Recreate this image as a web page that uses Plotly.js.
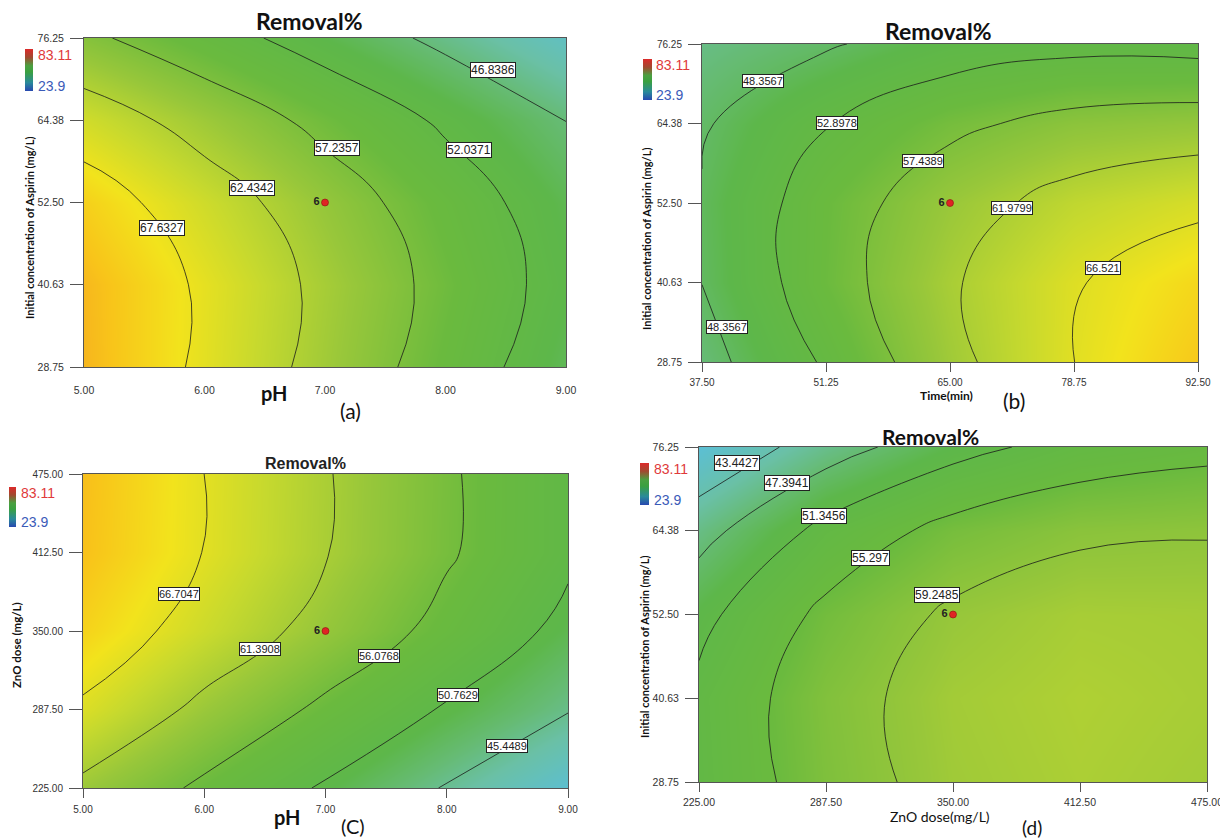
<!DOCTYPE html>
<html>
<head>
<meta charset="utf-8">
<script src="https://cdn.plot.ly/plotly-3.0.1.min.js"></script>
<style>
html,body{margin:0;padding:0;background:#ffffff;}
#chart{width:1220px;height:839px;}
</style>
</head>
<body>
<div id="chart"></div>
<script>
// ---------------- DATA ----------------
// Panel (a): Removal% vs pH (x) and initial aspirin concentration (y)
const phLevels = [5, 6, 7, 8, 9];
const aspirinConc = [28.75, 40.625, 52.5, 64.375, 76.25];
const removalA = [
  [72.6, 66.7, 60.8, 54.9, 49.0],
  [72.4, 66.9, 61.3, 55.8, 50.2],
  [70.1, 64.9, 59.7, 54.6, 49.4],
  [65.1, 60.5, 55.9, 51.3, 46.8],
  [58.2, 54.1, 49.9, 45.7, 41.5]
];
const contoursA = [46.8386, 52.0371, 57.2357, 62.4342, 67.6327];

// Panel (b): Removal% vs time (x) and initial aspirin concentration (y)
const timeLevels = [37.5, 51.25, 65, 78.75, 92.5];
const removalB = [
  [46.8, 53.4, 60.7, 66.5, 70.8],
  [48.4, 55.4, 61.5, 66.2, 69.3],
  [48.7, 55.2, 60.1, 63.6, 65.6],
  [47.9, 52.7, 56.5, 58.8, 59.6],
  [46.0, 47.9, 50.6, 51.7, 51.4]
];
const contoursB = [48.3567, 52.8978, 57.4389, 61.9799, 66.521];

// Panel (c): Removal% vs pH (x) and ZnO dose (y)
const znoDose = [225, 287.5, 350, 412.5, 475];
const removalC = [
  [60.3, 55.2, 50.2, 45.1, 40.1],
  [66.0, 60.2, 55.1, 50.3, 45.7],
  [69.8, 64.7, 59.7, 54.6, 49.5],
  [71.6, 66.6, 61.6, 56.6, 51.6],
  [71.8, 66.7, 61.7, 56.7, 51.6]
];
const contoursC = [45.4489, 50.7629, 56.0768, 61.3908, 66.7047];

// Panel (d): Removal% vs ZnO dose (x) and initial aspirin concentration (y)
const removalD = [
  [52.0, 57.4, 60.7, 61.8, 61.0],
  [52.2, 57.7, 61.0, 62.1, 61.4],
  [50.3, 56.2, 59.9, 61.4, 61.2],
  [46.0, 52.5, 56.6, 58.6, 59.0],
  [39.7, 45.6, 50.0, 52.9, 54.2]
];
const contoursD = [43.4427, 47.3941, 51.3456, 55.297, 59.2485];

// design centre point (6 replicates)
const centreA = {x: 7, y: 52.5, n: '6'};
const centreB = {x: 65, y: 52.5, n: '6'};
const centreC = {x: 7, y: 350, n: '6'};
const centreD = {x: 350, y: 52.5, n: '6'};

const zMin = 23.9, zMax = 83.11;

const phTicks = [5, 6, 7, 8, 9];
const phTickText = ['5.00', '6.00', '7.00', '8.00', '9.00'];
const concTicks = [28.75, 40.625, 52.5, 64.375, 76.25];
const concTickText = ['28.75', '40.63', '52.50', '64.38', '76.25'];
const timeTicks = [37.5, 51.25, 65, 78.75, 92.5];
const timeTickText = ['37.50', '51.25', '65.00', '78.75', '92.50'];
const doseTicks = [225, 287.5, 350, 412.5, 475];
const doseTickText = ['225.00', '287.50', '350.00', '412.50', '475.00'];

// ---------------- LAYOUT HELPERS ----------------
const W = 1220, H = 839;
const PX = v => v / W;
const PY = v => 1 - v / H;

const colorscale = [
  [0, '#2038b0'], [0.15, '#2a74cc'], [0.27, '#5cbfd2'], [0.34, '#6ac0a6'],
  [0.39, '#66bb74'], [0.44, '#5db74a'], [0.53, '#6aba3e'], [0.61, '#98c73a'],
  [0.68, '#c6d92e'], [0.745, '#f2e31c'], [0.80, '#f8c41a'], [0.85, '#f4a422'],
  [1, '#e02020']
];
const legendScale = [
  [0, '#2848b0'], [0.2, '#2a8a9a'], [0.45, '#3aa040'], [0.6, '#4aa040'],
  [0.8, '#a04a30'], [1, '#dc2a2a']
];

const panels = [
  {key: '', x: phLevels, y: aspirinConc, z: removalA, levels: contoursA, centre: centreA,
   box: {l: 84, r: 566, t: 38, b: 367},
   xt: [phTicks, phTickText], yt: [concTicks, concTickText], xr: [5, 9], yr: [28.75, 76.25],
   xTickColor: 'rgba(0,0,0,0)', xStand: 4, lblFont: 12, tickFont: 10.5,
   labelPos: [[8.39, 71.6], [8.195, 60.1], [7.10, 60.4], [6.39, 54.6], [5.65, 48.8]],
   legend: {l: 25, t: 49, w: 8, h: 42, lx: 36, y1: 55, y2: 86}},
  {key: '2', x: timeLevels, y: aspirinConc, z: removalB, levels: contoursB, centre: centreB,
   box: {l: 702, r: 1198, t: 44, b: 362},
   xt: [timeTicks, timeTickText], yt: [concTicks, concTickText], xr: [37.5, 92.5], yr: [28.75, 76.25],
   xTickColor: '#555', xStand: 2, lblFont: 11, tickFont: 10,
   labelPos: [[44.26, 70.7], [52.47, 64.5], [62.0, 58.7], [71.9, 51.7], [81.97, 42.75]],
   extraLabel: {x: 40.3, y: 33.96, idx: 0},
   legend: {l: 643, t: 59, w: 9, h: 41, lx: 654, y1: 65, y2: 95}},
  {key: '3', x: phLevels, y: znoDose, z: removalC, levels: contoursC, centre: centreC,
   box: {l: 83, r: 568, t: 474, b: 788},
   xt: [phTicks, phTickText], yt: [doseTicks, doseTickText], xr: [5, 9], yr: [225, 475],
   xTickColor: '#555', xStand: 3, lblFont: 11, tickFont: 10,
   labelPos: [[8.50, 258.7], [8.09, 299], [7.44, 330.1], [6.46, 335.7], [5.79, 379.5]],
   legend: {l: 9, t: 487, w: 7, h: 40, lx: 19, y1: 493, y2: 522}},
  {key: '4', x: doseTicks, y: aspirinConc, z: removalD, levels: contoursD, centre: centreD,
   box: {l: 699, r: 1207, t: 447, b: 782},
   xt: [doseTicks, doseTickText], yt: [concTicks, concTickText], xr: [225, 475], yr: [28.75, 76.25],
   xTickColor: '#555', xStand: 1, lblFont: 12, tickFont: 10.5,
   labelPos: [[243.7, 74.0], [268.2, 71.2], [286.5, 66.4], [309.2, 60.55], [342.1, 55.2]],
   legend: {l: 640, t: 463, w: 9, h: 42, lx: 652, y1: 469, y2: 500}}
];

const data = [];
const annotations = [];
const layout = {
  width: W, height: H,
  margin: {l: 0, r: 0, t: 0, b: 0},
  paper_bgcolor: '#ffffff', plot_bgcolor: '#ffffff',
  showlegend: false, hovermode: false,
  font: {family: 'Arial, Liberation Sans, sans-serif', color: '#222'}
};

panels.forEach(p => {
  const xa = 'x' + p.key, ya = 'y' + p.key;
  const lv = p.levels;
  data.push({
    type: 'contour', x: p.x, y: p.y, z: p.z,
    xaxis: xa, yaxis: ya,
    zmin: zMin, zmax: zMax, zauto: false,
    colorscale: colorscale, showscale: false,
    contours: {coloring: 'heatmap', start: lv[0], end: lv[lv.length - 1] + 1e-6,
               size: (lv[lv.length - 1] - lv[0]) / (lv.length - 1), showlines: true},
    line: {color: '#1a1a1a', width: 0.8, smoothing: 1.3}
  });
  // design centre point
  data.push({
    type: 'scatter', mode: 'markers+text', x: [p.centre.x], y: [p.centre.y],
    text: ['<b>' + p.centre.n + '</b>'], textposition: 'middle left',
    textfont: {family: 'Arial, Liberation Sans, sans-serif', size: 11, color: '#222'},
    marker: {size: 7, color: '#e02424', line: {color: '#8a1010', width: 0.6}},
    xaxis: xa, yaxis: ya, cliponaxis: false
  });
  // colour legend bar
  data.push({
    type: 'scatter', mode: 'markers', x: [null], y: [null], xaxis: xa, yaxis: ya,
    marker: {color: [zMin, zMax], cmin: zMin, cmax: zMax, colorscale: legendScale, showscale: true,
      colorbar: {x: PX(p.legend.l), xanchor: 'left', y: PY(p.legend.t), yanchor: 'top',
        len: p.legend.h, lenmode: 'pixels', thickness: p.legend.w, thicknessmode: 'pixels',
        xpad: 0, ypad: 0, outlinewidth: 0, ticks: '', showticklabels: false}}
  });
  annotations.push({xref: 'paper', yref: 'paper', x: PX(p.legend.lx), y: PY(p.legend.y1),
    xanchor: 'left', yanchor: 'middle', showarrow: false, text: String(zMax),
    font: {family: 'Arial, Liberation Sans, sans-serif', size: 14, color: '#e03a3a'}});
  annotations.push({xref: 'paper', yref: 'paper', x: PX(p.legend.lx), y: PY(p.legend.y2),
    xanchor: 'left', yanchor: 'middle', showarrow: false, text: String(zMin),
    font: {family: 'Arial, Liberation Sans, sans-serif', size: 14, color: '#3a5ab8'}});

  // contour value labels
  const addLabel = (pos, i) => annotations.push({
    xref: xa, yref: ya, x: pos[0], y: pos[1], showarrow: false,
    text: String(lv[i]), bgcolor: '#ffffff', bordercolor: '#222', borderwidth: 1, borderpad: 0,
    font: {family: 'Arial, Liberation Sans, sans-serif', size: p.lblFont, color: '#222'}
  });
  p.labelPos.forEach((pos, i) => addLabel(pos, i));
  if (p.extraLabel) addLabel([p.extraLabel.x, p.extraLabel.y], p.extraLabel.idx);

  const axBase = {
    showgrid: false, zeroline: false, showline: true, mirror: true,
    linecolor: '#555', linewidth: 1, ticks: 'outside', tickwidth: 1,
    tickfont: {family: 'Arial, Liberation Sans, sans-serif', size: p.tickFont, color: '#333'},
    fixedrange: true, ticklabeloverflow: 'allow'
  };
  layout['xaxis' + p.key] = Object.assign({}, axBase, {
    domain: [PX(p.box.l), PX(p.box.r)], anchor: ya, range: p.xr,
    tickvals: p.xt[0], ticktext: p.xt[1], ticklen: 9, tickcolor: p.xTickColor,
    ticklabelstandoff: p.xStand
  });
  layout['yaxis' + p.key] = Object.assign({}, axBase, {
    domain: [PY(p.box.b), PY(p.box.t)], anchor: xa, range: p.yr,
    tickvals: p.yt[0], ticktext: p.yt[1], ticklen: 13, tickcolor: '#555',
    ticklabelstandoff: 4
  });
});

// titles and axis titles (paper positions)
const T = (text, x, y, size, opts) => annotations.push(Object.assign({
  xref: 'paper', yref: 'paper', x: PX(x), y: PY(y), xanchor: 'center', yanchor: 'middle',
  showarrow: false, text: text,
  font: {family: 'Lato, Open Sans, sans-serif', size: size, color: '#111'}
}, opts || {}));

T('<b>Removal%</b>', 309, 21, 23);
T('<b>Removal%</b>', 938, 31, 23);
T('<b>Removal%</b>', 305, 463, 16, {font: {family: 'Arial, Liberation Sans, sans-serif', size: 16, color: '#222'}});
T('<b>Removal%</b>', 930, 436, 21);

T('<b>Initial concentration of Aspirin (mg/L)</b>', 29, 228, 11, {textangle: -90});
T('<b>Initial concentration of Aspirin (mg/L)</b>', 646, 239, 11, {textangle: -90});
T('<b>ZnO dose (mg/L)</b>', 16, 645, 11.5, {textangle: -90});
T('<b>Initial concentration of Aspirin (mg/L)</b>', 644, 647, 11, {textangle: -90});

T('<b>pH</b>', 274, 393, 20);
T('(a)', 351, 410, 21);
T('<b>Time(min)</b>', 946, 395, 12);
T('(b)', 1014, 401, 21);
T('<b>pH</b>', 287, 817, 20);
T('(C)', 353, 826, 20);
T('ZnO dose(mg/L)', 940, 816, 14);
T('(d)', 1032, 827, 19);

layout.annotations = annotations;

Plotly.newPlot('chart', data, layout, {staticPlot: true, displayModeBar: false});
</script>
</body>
</html>
